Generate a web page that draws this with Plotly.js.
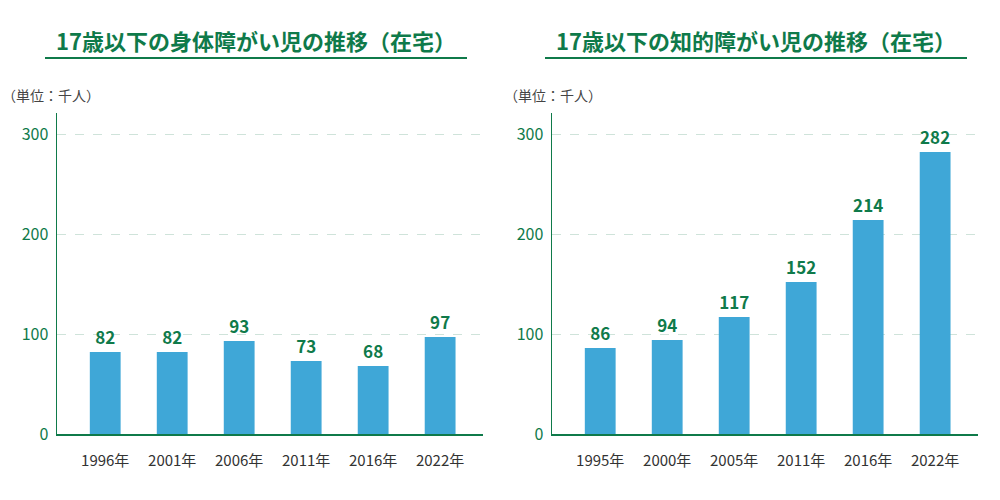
<!DOCTYPE html>
<html>
<head>
<meta charset="utf-8">
<script src="https://cdn.plot.ly/plotly-3.0.1.min.js"></script>
<style>body{margin:0;background:#fff}</style>
</head>
<body>
<div id="chart" style="width:1000px;height:500px"></div>
<script>
// 身体障がい児（在宅）
var yearsA = ["1996年", "2001年", "2006年", "2011年", "2016年", "2022年"];
var valuesA = [82, 82, 93, 73, 68, 97];
// 知的障がい児（在宅）
var yearsB = ["1995年", "2000年", "2005年", "2011年", "2016年", "2022年"];
var valuesB = [86, 94, 117, 152, 214, 282];

var green = "#0f7a4a";
var barColor = "#3fa7d7";
var font = "Noto Sans CJK JP, sans-serif";

function bars(x, y, xa, ya) {
  return {
    type: "bar", x: x, y: y, xaxis: xa, yaxis: ya,
    marker: {color: barColor}, width: 0.46,
    text: y.map(String), textposition: "outside", cliponaxis: false,
    textfont: {color: green, size: 17, family: font, weight: "bold"}
  };
}

function yax() {
  return {
    domain: [0, 1], range: [0, 321], tickvals: [0, 100, 200, 300],
    showline: true, linecolor: green, linewidth: 1.5,
    gridcolor: "#cfe3da", griddash: "dash", zeroline: false,
    tickfont: {color: green, size: 16, family: font}, ticks: "", ticklabelstandoff: 4
  };
}
function xax(domain, anchor) {
  return {
    domain: domain, anchor: anchor, showline: true, linecolor: green, linewidth: 1.5,
    range: [-0.72, 5.64], ticklabelstandoff: 12,
    tickfont: {color: "#333", size: 15, family: font}, ticks: ""
  };
}

var layout = {
  width: 1000, height: 500, showlegend: false,
  paper_bgcolor: "#fff", plot_bgcolor: "#fff",
  margin: {l: 0, r: 0, t: 113, b: 66},
  xaxis: xax([0.057, 0.483], "y"),
  yaxis: Object.assign(yax(), {anchor: "x"}),
  xaxis2: xax([0.552, 0.978], "y2"),
  yaxis2: Object.assign(yax(), {anchor: "x2"}),
  annotations: [
    {text: "<b>17歳以下の身体障がい児の推移（在宅）</b>", xref: "paper", yref: "paper",
     x: 0.256, y: 1.227, xanchor: "center", yanchor: "middle", showarrow: false,
     font: {size: 22, color: green, family: font}},
    {text: "<b>17歳以下の知的障がい児の推移（在宅）</b>", xref: "paper", yref: "paper",
     x: 0.756, y: 1.227, xanchor: "center", yanchor: "middle", showarrow: false,
     font: {size: 22, color: green, family: font}},
    {text: "（単位：千人）", xref: "paper", yref: "paper", x: 0.0, y: 1.056,
     xanchor: "left", yanchor: "middle", showarrow: false, font: {size: 14, color: "#444", family: font}},
    {text: "（単位：千人）", xref: "paper", yref: "paper", x: 0.502, y: 1.056,
     xanchor: "left", yanchor: "middle", showarrow: false, font: {size: 14, color: "#444", family: font}}
  ],
  shapes: [
    {type: "line", xref: "paper", yref: "paper", x0: 0.045, x1: 0.467, y0: 1.171, y1: 1.171,
     line: {color: green, width: 2}},
    {type: "line", xref: "paper", yref: "paper", x0: 0.545, x1: 0.967, y0: 1.171, y1: 1.171,
     line: {color: green, width: 2}}
  ]
};

Plotly.newPlot("chart", [bars(yearsA, valuesA, "x", "y"), bars(yearsB, valuesB, "x2", "y2")],
  layout, {displayModeBar: false, staticPlot: true});
</script>
</body>
</html>
